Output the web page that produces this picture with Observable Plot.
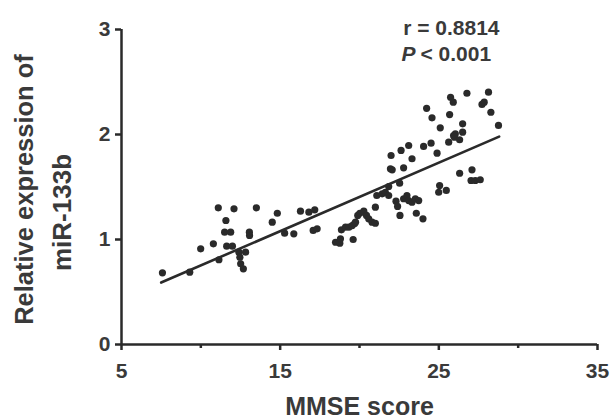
<!DOCTYPE html>
<html>
<head>
<meta charset="utf-8">
<script src="https://cdn.jsdelivr.net/npm/d3@7"></script>
<script src="https://cdn.jsdelivr.net/npm/@observablehq/plot@0.6"></script>
<style>
  html, body { margin: 0; padding: 0; background: #fff; }
</style>
</head>
<body>
<div id="chart"></div>
<script>
// MMSE score (x) and relative miR-133b expression (y)
const mmse = [
  7.58, 9.30, 9.99, 10.79, 11.10, 12.09, 11.58, 11.50, 11.88, 11.63,
  11.99, 11.14, 12.40, 12.82, 12.46, 12.51, 12.68, 13.06, 13.07, 13.50,
  14.50, 14.82, 15.28, 15.86, 16.28, 16.81, 17.18, 17.08, 17.33, 18.49,
  18.76, 18.80, 18.86, 19.12, 19.33, 19.60, 19.54, 19.68, 19.75, 19.89,
  20.02, 20.27, 20.44, 20.58, 20.79, 21.00, 21.00, 21.09, 21.43, 21.63,
  21.84, 21.84, 21.99, 21.95, 22.06, 22.53, 22.62, 22.78, 23.10, 23.31,
  22.30, 22.40, 22.55, 22.78, 22.99, 23.10, 23.31, 23.52, 23.73, 23.58,
  24.00, 24.04, 24.51, 24.89, 25.05, 24.99, 25.47, 25.62, 25.93, 25.74,
  25.91, 26.77, 28.13, 27.72, 27.86, 28.28, 28.76, 25.68, 24.57, 24.23,
  26.50, 25.09, 26.04, 25.98, 26.31, 26.50, 26.31, 27.09, 27.03, 27.30,
  27.61
];
const mir133b = [
  0.683, 0.689, 0.911, 0.959, 1.302, 1.292, 1.181, 1.070, 1.070, 0.936,
  0.936, 0.807, 0.879, 0.879, 0.831, 0.769, 0.721, 1.070, 1.038, 1.302,
  1.165, 1.250, 1.060, 1.054, 1.270, 1.260, 1.283, 1.086, 1.102, 0.974,
  0.965, 1.006, 1.092, 1.117, 1.117, 1.000, 1.133, 1.150, 1.165, 1.229,
  1.250, 1.270, 1.229, 1.197, 1.165, 1.155, 1.308, 1.419, 1.435, 1.450,
  1.419, 1.505, 1.800, 1.673, 1.664, 1.536, 1.848, 1.683, 1.895, 1.769,
  1.365, 1.315, 1.229, 1.388, 1.419, 1.371, 1.355, 1.388, 1.371, 1.250,
  1.197, 1.886, 1.917, 1.822, 1.514, 1.450, 1.467, 1.927, 1.990, 2.355,
  2.308, 2.393, 2.403, 2.286, 2.308, 2.212, 2.086, 2.190, 2.159, 2.249,
  2.102, 2.064, 2.007, 1.974, 1.950, 2.022, 1.631, 1.664, 1.562, 1.562,
  1.569
];
// Fitted regression line (end points)
const fitX = [7.5, 28.8];
const fitY = [0.59, 1.98];

const xTicks = [5, 15, 25, 35];
const xMinorTicks = [10, 20, 30];
const yTicks = [0, 1, 2, 3];

const xTitle = "MMSE score";
const yTitleLine1 = "Relative expression of";
const yTitleLine2 = "miR-133b";
const rLabel = "r = 0.8814";
const pLabel = "P";
const pValue = "< 0.001";

const points = mmse.map((x, i) => ({x, y: mir133b[i]}));
const fit = fitX.map((x, i) => ({x, y: fitY[i]}));

const ink = "#2a2a2a";
const txt = "#3a3a3a";

const chart = Plot.plot({
  width: 611,
  height: 418,
  marginLeft: 121,
  marginRight: 14,
  marginTop: 29,
  marginBottom: 74,
  x: {domain: [5, 35]},
  y: {domain: [0, 3]},
  style: {
    fontFamily: "'Liberation Sans', Arial, sans-serif",
    fontWeight: "bold",
    fontSize: "21px",
    color: txt,
    background: "#fff"
  },
  marks: [
    Plot.axisY({ticks: yTicks, tickSize: 6, tickPadding: 5, strokeWidth: 2.5, stroke: ink, fontSize: 21, label: null, tickFormat: d => d}),
    Plot.axisX({ticks: xTicks, tickSize: 6, tickPadding: 13, strokeWidth: 2.5, stroke: ink, fontSize: 21, label: null, tickFormat: d => d}),
    Plot.axisX({ticks: xMinorTicks, tickSize: 4, strokeWidth: 2.5, stroke: ink, label: null, tickFormat: () => ""}),
    Plot.ruleX([5], {stroke: ink, strokeWidth: 2.5}),
    Plot.ruleY([0], {stroke: ink, strokeWidth: 2.5}),
    Plot.dot(points, {x: "x", y: "y", r: 3.6, fill: ink, stroke: "none"}),
    Plot.line(fit, {x: "x", y: "y", stroke: ink, strokeWidth: 2.6}),
    Plot.text([yTitleLine1], {text: d => d, frameAnchor: "left", textAnchor: "middle", lineAnchor: "middle", rotate: -90, dx: -97, dy: 2.5, fontSize: 25.5, fill: txt}),
    Plot.text([yTitleLine2], {text: d => d, frameAnchor: "left", textAnchor: "middle", lineAnchor: "middle", rotate: -90, dx: -59, dy: 25.5, fontSize: 26, fill: txt}),
    Plot.text([xTitle], {text: d => d, frameAnchor: "bottom", lineAnchor: "middle", dy: 62, fontSize: 25, fill: txt}),
    Plot.text([rLabel], {text: d => d, frameAnchor: "top-right", textAnchor: "end", lineAnchor: "middle", dx: -98, dy: -1, fontSize: 21, fill: txt}),
    Plot.text([pLabel], {text: d => d, frameAnchor: "top-right", textAnchor: "end", lineAnchor: "middle", dx: -182, dy: 25, fontSize: 21, fontStyle: "italic", fill: txt}),
    Plot.text([pValue], {text: d => d, frameAnchor: "top-right", textAnchor: "start", lineAnchor: "middle", dx: -177, dy: 25, fontSize: 21, fill: txt})
  ]
});

document.getElementById("chart").appendChild(chart);
</script>
</body>
</html>
